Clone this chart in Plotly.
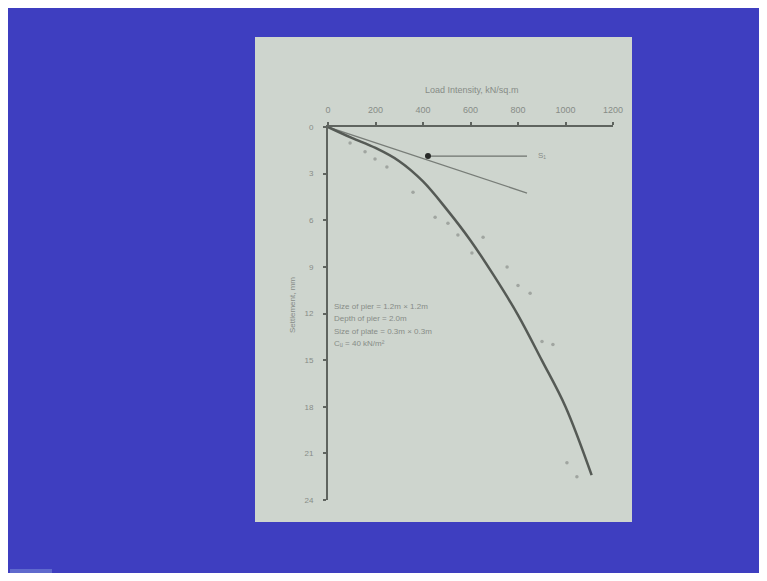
import plotly.graph_objects as go

# ---- data ----
curve_load = [0, 100, 200, 300, 400, 500, 600, 700, 800, 900, 1000, 1110]
curve_settle = [0, 0.7, 1.35, 2.2, 3.5, 5.3, 7.3, 9.6, 12.1, 15.0, 18.0, 22.4]

obs_load = [93, 156, 198, 248, 358, 451, 505, 547, 606, 653, 754, 800, 851, 901, 947, 1006, 1048]
obs_settle = [1.03, 1.6, 2.06, 2.57, 4.2, 5.8, 6.2, 6.95, 8.1, 7.1, 9.0, 10.2, 10.7, 13.8, 14.0, 21.6, 22.5]

tangent_load = [0, 838]
tangent_settle = [0, 4.25]

marker_load = [421]
marker_settle = [1.87]
arrow_load = [421, 838]
arrow_settle = [1.87, 1.87]

x_ticks = [0, 200, 400, 600, 800, 1000, 1200]
y_ticks = [0, 3, 6, 9, 12, 15, 18, 21, 24]

notes = ["Size of pier = 1.2m × 1.2m",
         "Depth of pier = 2.0m",
         "Size of plate = 0.3m × 0.3m",
         "Cᵤ = 40 kN/m²"]

OFF = 8
W, H = 751, 565
BLUE = "rgb(62,62,192)"
SLIDE = "rgb(206,213,206)"
AX = "rgb(95,100,95)"
TXT = "rgb(135,140,135)"
FONT = "Liberation Sans, Arial, sans-serif"

def px(x):
    return (x - OFF) / W

def py(y):
    return 1 - (y - OFF) / H

fig = go.Figure()

fig.add_trace(go.Scatter(x=obs_load, y=obs_settle, mode="markers",
                         marker=dict(size=3.5, color="rgb(160,165,160)"),
                         showlegend=False, hoverinfo="skip"))
fig.add_trace(go.Scatter(x=tangent_load, y=tangent_settle, mode="lines",
                         line=dict(color="rgb(120,125,120)", width=1.3),
                         showlegend=False, hoverinfo="skip"))
fig.add_trace(go.Scatter(x=arrow_load, y=arrow_settle, mode="lines",
                         line=dict(color="rgb(110,115,110)", width=1.3),
                         showlegend=False, hoverinfo="skip"))
fig.add_trace(go.Scatter(x=marker_load, y=marker_settle, mode="markers",
                         marker=dict(size=6, color="rgb(40,42,40)"),
                         showlegend=False, hoverinfo="skip"))
fig.add_trace(go.Scatter(x=curve_load, y=curve_settle, mode="lines",
                         line=dict(color="rgb(85,90,85)", width=2.5, shape="spline"),
                         showlegend=False, hoverinfo="skip"))

shapes = [
    dict(type="rect", xref="paper", yref="paper", x0=px(255), x1=px(632), y0=py(522), y1=py(37),
         fillcolor=SLIDE, line=dict(width=0), layer="below"),
    dict(type="rect", xref="paper", yref="paper", x0=px(10), x1=px(52), y0=0, y1=py(569),
         fillcolor="rgb(95,105,205)", line=dict(width=0), layer="below"),
]

annotations = [
    dict(text="Load Intensity, kN/sq.m", xref="paper", yref="paper", x=px(471), y=py(90),
         yanchor="middle", showarrow=False, font=dict(size=9, color=TXT, family=FONT)),
    dict(text="Settlement, mm", xref="paper", yref="paper", x=px(292), y=py(305),
         yanchor="middle", textangle=-90, showarrow=False, font=dict(size=8, color=TXT, family=FONT)),
    dict(text="S₁", xref="paper", yref="paper", x=px(536), y=py(155), xanchor="left",
         yanchor="middle", showarrow=False, font=dict(size=8, color=TXT, family=FONT)),
]
for i, t in enumerate(notes):
    annotations.append(dict(text=t, xref="paper", yref="paper", x=px(332), y=py(306 + 12.5 * i),
                            xanchor="left", yanchor="middle", showarrow=False,
                            font=dict(size=8, color=TXT, family=FONT)))

fig.update_layout(
    template="none",
    width=W, height=H,
    margin=dict(l=0, r=0, t=0, b=0, pad=0, autoexpand=False),
    paper_bgcolor=BLUE,
    plot_bgcolor="rgba(0,0,0,0)",
    showlegend=False,
    shapes=shapes,
    annotations=annotations,
    font=dict(family=FONT, color=TXT, size=9),
    xaxis=dict(domain=[px(328), px(613)], range=[0, 1200], side="top", automargin=False,
               tickvals=x_ticks, ticktext=[str(v) for v in x_ticks],
               showgrid=False, zeroline=False, showline=True, linecolor=AX, linewidth=2,
               ticks="outside", ticklen=3, tickwidth=2, tickcolor=AX,
               ticklabelstandoff=5, tickfont=dict(size=9, color=TXT)),
    yaxis=dict(domain=[py(500), py(127)], range=[24, 0], automargin=False,
               tickvals=y_ticks, ticktext=[str(v) for v in y_ticks],
               showgrid=False, zeroline=False, showline=True, linecolor=AX, linewidth=2,
               ticks="outside", ticklen=3, tickwidth=2, tickcolor=AX,
               ticklabelstandoff=8, tickfont=dict(size=8, color=TXT)),
)

fig.write_html("out.html", config={"displayModeBar": False})
